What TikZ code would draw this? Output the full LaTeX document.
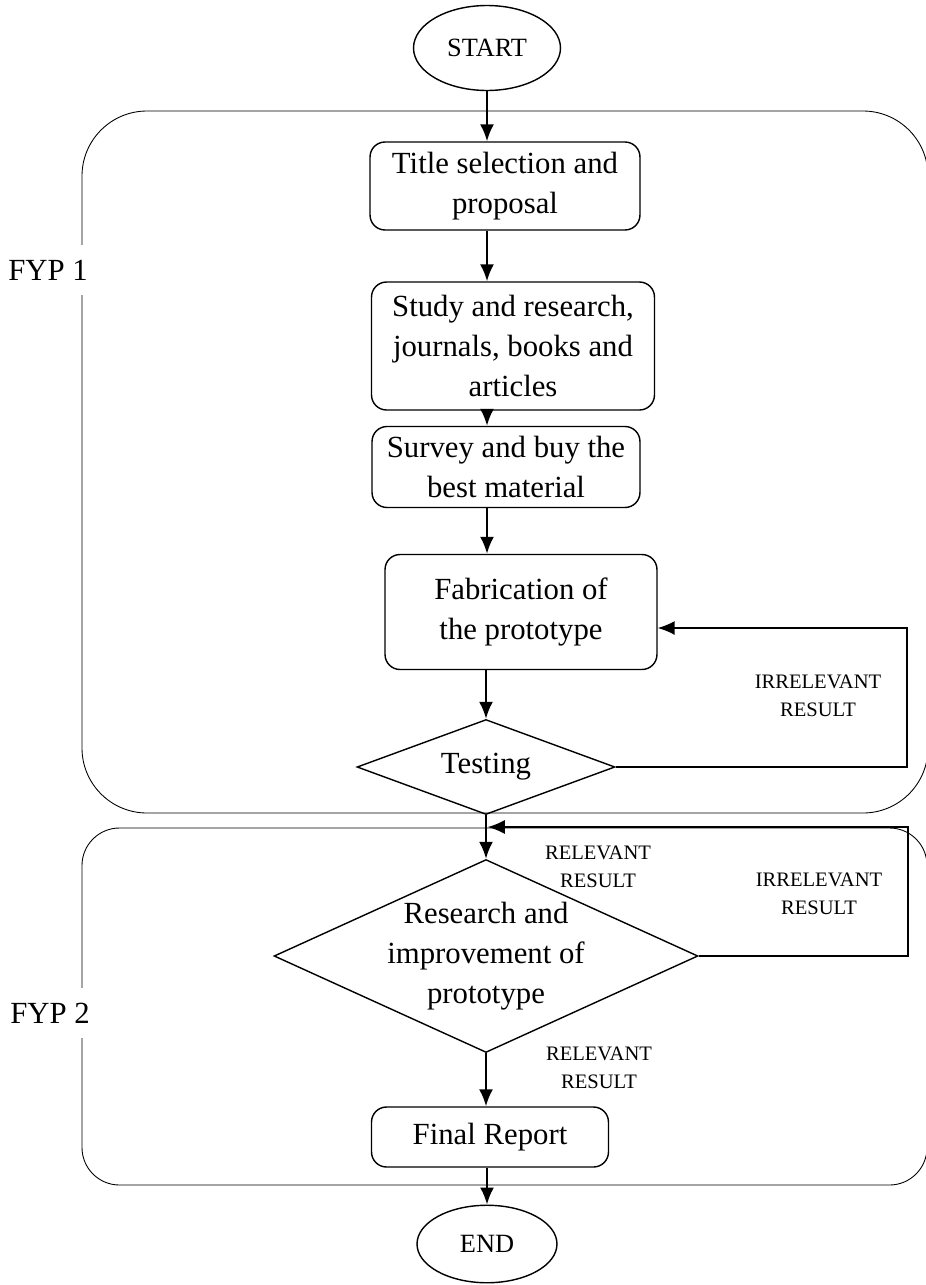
\documentclass[tikz,border=0pt]{standalone}
\usepackage{fontspec}
\setmainfont{Liberation Serif}
\usepackage{tikz}
\usetikzlibrary{arrows.meta, shapes.geometric}

\newcommand{\boxsize}{\fontsize{17.5}{22.8}\selectfont}
\newcommand{\termsize}{\fontsize{15}{18}\selectfont}
\newcommand{\notesize}{\fontsize{11.7}{15.9}\selectfont}

\tikzset{
    stepbox/.style={draw, rounded corners=0.3cm, line width=0.8pt, align=center, font=\boxsize, inner sep=0pt},
    term/.style={draw, ellipse, line width=0.8pt, font=\termsize, inner sep=0pt},
    decide/.style={draw, diamond, line width=0.8pt, align=center, font=\boxsize, inner sep=0pt, aspect=2.3},
    note/.style={align=center, font=\notesize, inner sep=1pt},
    phaselabel/.style={fill=white, font=\boxsize, inner xsep=2pt, inner ysep=0.3cm},
    phase/.style={line width=0.5pt},
    flow/.style={->, line width=1.2pt},
    loopline/.style={->, line width=0.9pt}
}

\begin{document}
\begin{tikzpicture}[x=0.02cm, y=-0.02cm, >={Latex[length=3.4mm,width=2.8mm]}]
    \useasboundingbox (0,0) rectangle (926,1285);
    % Hai khung giai đoạn
    \draw[phase, rounded corners=1.3cm] (82,111) rectangle (928,813);   % FYP 1
    \draw[phase, rounded corners=0.75cm] (82,828) rectangle (927,1185); % FYP 2
    \node[phaselabel] (fyp1) at (48,270) {FYP 1};
    \node[phaselabel] (fyp2) at (50,1013) {FYP 2};

    % Các bước
    \node[term, minimum width=2.94cm, minimum height=1.7cm] (start) at (487,48) {START};
    \node[stepbox, minimum width=5.4cm, minimum height=1.76cm] (title) at (505,186) {Title selection and\\proposal};
    \node[stepbox, minimum width=5.66cm, minimum height=2.56cm] (study) at (513,346) {Study and research,\\journals, books and\\articles};
    \node[stepbox, minimum width=5.36cm, minimum height=1.62cm] (survey) at (506,467) {Survey and buy the\\best material};
    \node[stepbox, minimum width=5.44cm, minimum height=2.3cm] (fab) at (521,612) {Fabrication of\\the prototype};
    \node[decide, minimum width=5.16cm, minimum height=1.9cm] (test) at (486,767) {Testing};
    \node[decide, inner xsep=-0.25cm, minimum width=8.48cm, minimum height=3.86cm] (research) at (486,956) {Research and\\improvement of\\prototype};
    \node[stepbox, minimum width=4.74cm, minimum height=1.2cm] (final) at (490,1137) {Final Report};
    \node[term, minimum width=2.8cm, minimum height=1.55cm] (end) at (487,1244) {END};

    % Nhãn kết quả
    \node[note] (irr1) at (818,696) {IRRELEVANT\\RESULT};
    \node[note] (rel1) at (598,867) {RELEVANT\\RESULT};
    \node[note] (irr2) at (819,894) {IRRELEVANT\\RESULT};
    \node[note] (rel2) at (599,1068) {RELEVANT\\RESULT};

    % Mũi tên chính
    \draw[flow] (start.south) -- (start.south |- title.north);
    \draw[flow] (title.south -| start) -- (study.north -| start);
    \draw[flow] (study.south -| start) -- (survey.north -| start);
    \draw[flow] (survey.south -| start) -- (fab.north -| start);
    \draw[flow] (fab.south -| test) -- (test.north);
    \draw[flow] (test.south) -- (research.north);
    \draw[flow] (research.south) -- (research.south |- final.north);
    \draw[flow] (final.south -| end) -- (end.north);

    % Vòng lặp
    \coordinate (back1) at (907,628);
    \coordinate (back2) at (908,827);
    \draw[loopline] (test.east) -| (back1) -- (back1 -| fab.east);
    \draw[loopline] (research.east) -| (back2) -- ([xshift=1pt]back2 -| research.north);
\end{tikzpicture}
\end{document}
